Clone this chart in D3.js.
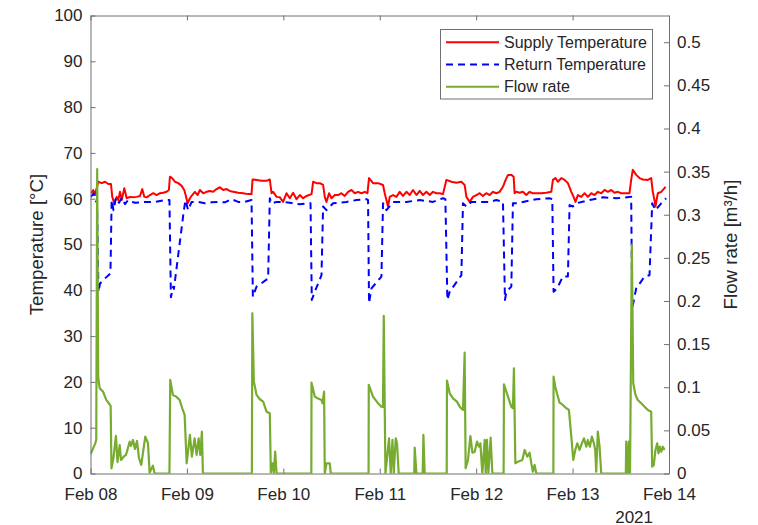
<!DOCTYPE html>
<html>
<head>
<meta charset="utf-8">
<script src="https://cdn.jsdelivr.net/npm/d3@7"></script>
<style>
  html, body { margin: 0; padding: 0; background: #ffffff; }
  svg { display: block; font-family: "Liberation Sans", Arial, Helvetica, sans-serif; }
</style>
</head>
<body>
<svg id="chart" width="758" height="525"></svg>
<script>
// Hours elapsed since 2021-02-08 00:00 and the measured values for each series.
const supplyHours = [0.12,0.70,1.12,1.54,1.94,2.79,3.61,4.43,5.10,5.42,5.92,6.52,6.91,7.34,7.76,8.41,9.00,9.82,10.64,11.49,12.31,12.88,13.38,13.98,14.80,15.62,16.46,17.28,18.11,18.95,19.52,19.77,20.34,21.02,21.84,22.68,23.33,23.68,24.17,24.75,25.32,25.99,26.66,27.23,28.05,28.90,29.72,30.54,31.39,32.21,33.03,33.87,34.69,35.51,36.76,38.00,39.24,40.09,40.34,41.33,42.58,43.82,44.64,45.06,45.46,46.31,47.13,47.95,48.80,49.62,50.44,51.28,52.10,52.92,53.77,55.01,55.41,56.26,57.08,57.90,58.32,58.74,59.39,59.99,60.81,61.63,62.47,63.29,64.11,64.96,65.78,66.60,67.45,68.27,68.94,69.34,70.33,71.58,72.82,73.24,74.06,74.49,75.31,76.15,76.97,77.79,78.64,79.46,80.28,81.13,81.95,82.77,83.61,84.43,85.25,86.10,86.92,87.74,88.59,89.83,91.07,92.32,93.14,93.56,94.38,95.20,96.05,96.87,97.69,98.54,99.36,100.18,101.02,101.84,102.66,103.34,103.91,104.75,105.33,105.57,106.00,106.82,107.64,108.48,109.30,110.12,110.97,112.21,113.46,114.70,115.10,115.77,116.34,117.19,118.01,118.83,119.68,120.25,120.74,121.31,122.16,122.98,123.80,124.65,125.47,126.29,127.13,127.96,128.78,129.62,130.44,131.26,132.11,132.93,134.17,134.59,134.99,135.84,136.66,137.48,138.73,139.57,139.97,140.39,140.64,141.21,142.06,142.88,143.12];
const supplyTemp = [61.2,61.9,60.8,62.3,63.7,63.4,63.7,63.2,63.2,60.4,59.0,60.4,59.7,61.5,59.7,62.3,60.1,60.4,60.3,60.4,60.6,62.1,60.4,60.3,60.8,61.2,60.8,61.2,61.3,61.5,61.9,64.8,64.5,63.7,63.4,62.8,61.9,60.8,59.0,60.1,60.8,61.5,60.8,61.9,61.2,61.5,61.7,61.5,62.1,62.5,61.9,62.1,61.7,61.5,61.3,61.2,61.0,61.0,64.2,64.1,63.9,63.9,64.2,61.2,61.5,60.4,60.3,59.3,61.2,60.1,61.3,59.9,60.8,60.1,60.6,61.0,63.7,63.4,63.4,63.0,60.4,59.3,61.2,60.1,60.8,60.8,61.2,60.6,61.5,61.9,61.2,61.5,61.2,61.5,61.2,64.5,63.4,63.4,63.0,61.2,58.3,60.4,60.8,60.4,61.5,60.6,61.5,60.8,61.9,60.8,61.7,60.8,61.5,60.8,61.5,61.2,61.2,61.0,64.1,63.7,63.5,63.7,63.0,60.4,59.3,60.4,60.8,61.2,60.6,61.2,60.8,61.5,61.2,61.5,62.6,64.1,65.2,65.2,64.8,61.2,61.5,61.3,61.5,60.8,61.5,61.2,61.2,61.2,61.3,61.5,64.1,64.5,63.7,64.5,64.1,63.4,61.5,60.4,59.3,60.8,60.4,61.2,60.4,61.2,60.8,61.5,61.2,61.9,61.5,61.9,61.3,61.5,61.2,61.2,61.2,64.1,66.3,65.2,64.5,64.2,64.1,64.5,61.5,59.7,58.3,61.2,61.5,62.3,62.6];

const returnHours = [0.12,0.75,1.24,1.62,1.99,2.36,3.61,4.97,5.27,5.72,6.34,7.09,7.83,8.58,9.33,11.07,13.55,16.04,18.53,19.65,20.02,20.59,20.77,23.25,23.63,24.32,25.17,26.81,28.48,30.14,31.78,33.45,35.12,36.76,38.42,40.09,40.41,41.33,42.65,44.22,44.64,45.06,46.31,47.55,49.62,52.10,54.76,55.09,55.83,57.50,57.90,58.74,60.39,63.72,66.20,68.69,69.09,69.34,69.93,72.42,72.82,73.66,75.31,78.64,81.95,85.25,87.74,88.34,88.84,89.41,92.32,92.72,93.56,94.80,96.45,99.36,101.02,102.66,103.16,103.51,104.75,105.15,106.00,107.64,110.97,114.28,114.95,115.27,116.14,117.59,118.83,119.25,120.07,120.92,124.23,127.53,130.87,134.59,134.84,135.84,137.91,139.15,139.82,140.64,142.06,143.30];
const returnTemp = [60.4,61.2,59.7,59.1,39.6,41.5,42.6,43.7,59.7,57.5,60.2,59.1,60.2,58.8,59.7,59.1,59.3,59.3,59.7,59.7,38.5,40.8,40.3,57.5,59.7,57.5,59.3,59.3,59.0,59.2,59.3,59.2,59.9,59.3,59.3,59.7,38.6,40.8,41.6,42.6,60.1,59.0,59.3,59.3,59.1,58.8,59.0,37.9,39.7,43.3,58.3,57.5,59.0,59.3,59.7,59.9,59.7,37.2,40.4,43.0,59.0,57.5,59.3,59.3,59.7,59.3,60.1,59.9,37.9,39.7,43.3,59.0,58.3,59.3,59.3,59.3,59.7,59.3,37.9,39.7,40.8,59.0,59.0,59.3,59.9,60.1,59.9,39.7,40.4,43.0,43.0,58.6,58.3,59.0,59.7,60.3,60.1,60.4,36.0,40.4,43.0,43.3,59.0,57.5,59.0,60.1];

const flowHours = [0.05,1.19,1.44,1.67,1.92,2.29,3.11,3.93,5.02,5.22,5.72,6.34,6.71,7.26,7.58,8.26,8.83,9.75,10.07,10.57,11.07,11.56,12.06,12.63,13.63,14.30,14.72,15.54,15.97,19.65,19.85,20.52,21.34,22.18,22.83,23.43,23.93,24.75,25.24,25.91,26.41,26.91,27.31,27.73,27.98,40.17,40.29,40.66,41.33,42.15,42.98,43.82,44.64,44.89,45.31,45.64,45.96,46.31,54.96,55.01,55.83,56.50,57.50,57.75,58.15,58.32,58.74,59.56,59.81,69.21,69.26,70.33,71.58,72.42,72.80,73.00,73.42,74.31,74.73,75.16,75.48,75.98,76.30,76.72,80.58,80.70,81.13,82.69,82.87,83.19,88.66,88.74,89.41,90.23,91.22,91.90,92.72,93.14,93.39,93.96,94.56,95.06,95.63,96.20,96.70,97.05,97.54,98.12,98.36,98.69,99.03,99.60,100.03,102.84,102.91,103.91,104.75,105.15,105.40,105.75,106.40,107.49,108.06,108.73,109.30,109.73,110.12,110.55,110.97,115.22,115.27,115.70,116.10,116.77,117.59,118.43,119.08,119.68,120.17,120.67,121.17,121.74,122.31,122.81,123.41,123.80,124.30,124.80,125.30,125.64,125.89,126.29,126.71,127.13,133.25,133.35,133.75,134.00,134.30,134.75,135.10,135.67,136.24,137.09,137.91,138.73,139.57,139.82,140.22,140.64,141.06,141.39,141.71,142.06,142.46,142.88];
const flowRate = [0.0226,0.0350,0.0390,0.3530,0.1120,0.0988,0.0949,0.0853,0.0783,0.0060,0.0180,0.0435,0.0133,0.0330,0.0157,0.0195,0.0215,0.0369,0.0319,0.0389,0.0284,0.0377,0.0180,0.0099,0.0427,0.0354,0.0010,0.0090,0,0,0.1085,0.0911,0.0891,0.0853,0.0756,0.0679,0.0118,0.0447,0.0195,0.0408,0.0215,0.0408,0.0215,0.0485,0,0,0.1858,0.1065,0.0911,0.0861,0.0833,0.0717,0.0698,0.0010,0.0118,0.0006,0.0253,0,0,0.1053,0.0891,0.0872,0.0853,0.0814,0.0949,0,0.0118,0.0118,0,0,0.1027,0.0891,0.0814,0.0775,0.0771,0.1827,0,0.0408,0,0.0389,0,0.0408,0.0350,0,0,0.0299,0,0,0.0447,0,0,0.1077,0.0930,0.0872,0.0833,0.0775,0.0737,0.1401,0.0060,0.0157,0.0435,0.0241,0.0253,0.0369,0.0311,0.0350,0,0.0389,0,0.0389,0,0.0415,0,0,0.1035,0.0891,0.0775,0.0756,0.1220,0.0118,0.0137,0.0157,0.0273,0.0195,0.0241,0.0118,0.0021,0.0099,0,0,0.1123,0.1007,0.0930,0.0821,0.0795,0.0756,0.0737,0.0427,0.0157,0.0273,0.0350,0.0273,0.0350,0.0408,0.0311,0.0389,0.0311,0.0427,0.0350,0.0273,0.0020,0.0485,0.0311,0,0,0.0369,0,0.0369,0,0.2651,0.1046,0.0911,0.0853,0.0814,0.0775,0.0737,0.0717,0.0079,0.0099,0.0273,0.0350,0.0234,0.0311,0.0253,0.0311,0.0273];

const seriesNames = ["Supply Temperature", "Return Temperature", "Flow rate"];
const seriesColors = ["#ff0000", "#0000ff", "#77ac30"];
const tempTicks = [0, 10, 20, 30, 40, 50, 60, 70, 80, 90, 100];
const flowTicks = [0, 0.05, 0.1, 0.15, 0.2, 0.25, 0.3, 0.35, 0.4, 0.45, 0.5];
const flowTickLabels = ["0", "0.05", "0.1", "0.15", "0.2", "0.25", "0.3", "0.35", "0.4", "0.45", "0.5"];
const startDate = new Date(2021, 1, 8);
const endDate = new Date(2021, 1, 14);
const yearLabel = "2021";

const svg = d3.select("#chart");
const L = 90.5, R = 669, T = 15.5, B = 473.5;
const textColor = "#262626", axisColor = "#707070";
const tickFont = 17;

const toTime = h => d3.timeMinute.offset(startDate, Math.round(h * 60));
const x = d3.scaleTime().domain([startDate, endDate]).range([L, R]);
const yT = d3.scaleLinear().domain([0, 100]).range([B, T]);
const yF = d3.scaleLinear().domain([0, 0.531]).range([B, T]);

svg.append("defs").append("clipPath").attr("id", "plotclip")
  .append("rect").attr("x", L).attr("y", T).attr("width", R - L).attr("height", B - T);

const plot = svg.append("g").attr("clip-path", "url(#plotclip)");
const zipSeries = (hs, vs) => hs.map((h, i) => ({ t: toTime(h), v: vs[i] }));

const tempLine = d3.line().x(d => x(d.t)).y(d => yT(d.v));
const flowLine = d3.line().x(d => x(d.t)).y(d => yF(d.v));

plot.append("path").datum(zipSeries(supplyHours, supplyTemp))
  .attr("d", tempLine).attr("fill", "none").attr("stroke", seriesColors[0])
  .attr("stroke-width", 2).attr("stroke-linejoin", "round");
plot.append("path").datum(zipSeries(returnHours, returnTemp))
  .attr("d", tempLine).attr("fill", "none").attr("stroke", seriesColors[1])
  .attr("stroke-width", 2).attr("stroke-dasharray", "7,5").attr("stroke-linejoin", "round");
plot.append("path").datum(zipSeries(flowHours, flowRate))
  .attr("d", flowLine).attr("fill", "none").attr("stroke", seriesColors[2])
  .attr("stroke-width", 2.2).attr("stroke-linejoin", "round");

// Axes: MATLAB-style inward ticks and a surrounding box
function styleAxis(g) {
  g.selectAll("path.domain").attr("stroke", axisColor).attr("stroke-width", 1);
  g.selectAll(".tick line").attr("stroke", axisColor).attr("stroke-width", 1);
  g.selectAll("text").attr("fill", textColor).attr("font-size", tickFont)
    .attr("font-family", "'Liberation Sans', Arial, Helvetica, sans-serif");
}

svg.append("g").attr("transform", `translate(0,${B})`)
  .call(d3.axisBottom(x).ticks(d3.timeDay.every(1)).tickFormat(d3.timeFormat("%b %d"))
    .tickSize(-5).tickSizeOuter(0).tickPadding(14))
  .call(styleAxis);
svg.append("g").attr("transform", `translate(0,${T})`)
  .call(d3.axisTop(x).ticks(d3.timeDay.every(1)).tickFormat("")
    .tickSize(-5).tickSizeOuter(0))
  .call(styleAxis);
svg.append("g").attr("transform", `translate(${L},0)`)
  .call(d3.axisLeft(yT).tickValues(tempTicks).tickSize(-5).tickSizeOuter(0).tickPadding(8))
  .call(styleAxis);
svg.append("g").attr("transform", `translate(${R},0)`)
  .call(d3.axisRight(yF).tickValues(flowTicks).tickFormat((d, i) => flowTickLabels[i])
    .tickSize(-5).tickSizeOuter(0).tickPadding(8))
  .call(styleAxis);

svg.append("text").attr("x", 653).attr("y", 522.5).attr("text-anchor", "end")
  .attr("fill", textColor).attr("font-size", tickFont).text(yearLabel);

svg.append("text").attr("transform", `translate(43,${(T + B) / 2}) rotate(-90)`)
  .attr("text-anchor", "middle").attr("fill", textColor).attr("font-size", 18.7)
  .text("Temperature [°C]");
svg.append("text").attr("transform", `translate(737,${(T + B) / 2}) rotate(-90)`)
  .attr("text-anchor", "middle").attr("fill", textColor).attr("font-size", 18.7)
  .text("Flow rate [m³/h]");

// Legend
const lg = svg.append("g");
lg.append("rect").attr("x", 440.5).attr("y", 29.5).attr("width", 212).attr("height", 69.5)
  .attr("fill", "#ffffff").attr("stroke", axisColor).attr("stroke-width", 1);
seriesNames.forEach((name, i) => {
  const yy = 42.3 + i * 22.2;
  lg.append("line").attr("x1", 446).attr("x2", 499).attr("y1", yy).attr("y2", yy)
    .attr("stroke", seriesColors[i]).attr("stroke-width", 2)
    .attr("stroke-dasharray", i === 1 ? "7,5" : null);
  lg.append("text").attr("x", 504).attr("y", yy).attr("dy", "0.35em")
    .attr("fill", textColor).attr("font-size", 16).text(name);
});
</script>
</body>
</html>
